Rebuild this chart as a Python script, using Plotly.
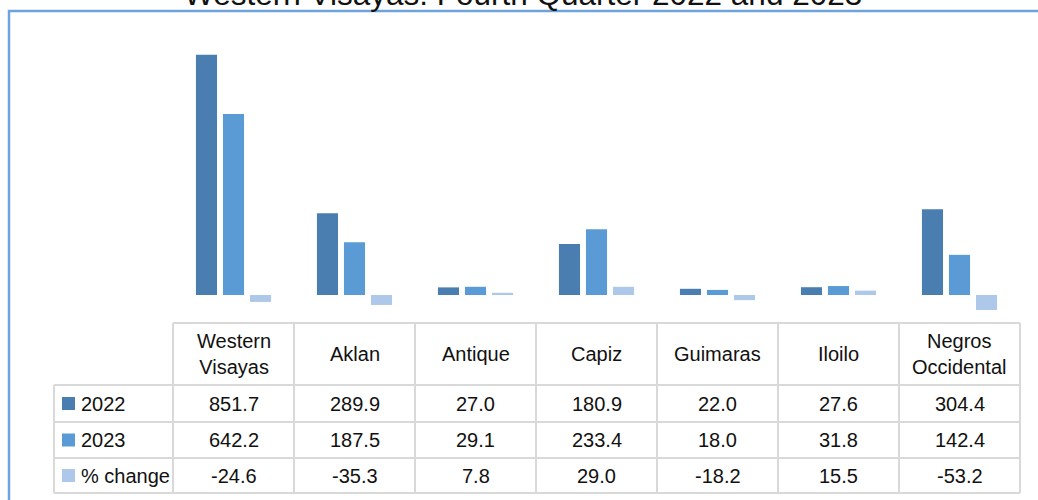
import plotly.graph_objects as go

categories = ["Western Visayas", "Aklan", "Antique", "Capiz", "Guimaras", "Iloilo", "Negros Occidental"]
header_labels = ["Western<br>Visayas", "Aklan", "Antique", "Capiz", "Guimaras", "Iloilo", "Negros<br>Occidental"]
series_names = ["2022", "2023", "% change"]
values_2022 = [851.7, 289.9, 27.0, 180.9, 22.0, 27.6, 304.4]
values_2023 = [642.2, 187.5, 29.1, 233.4, 18.0, 31.8, 142.4]
pct_change = [-24.6, -35.3, 7.8, 29.0, -18.2, 15.5, -53.2]
title_text = "Western Visayas: Fourth Quarter 2022 and 2023"

colors = ["#4A7EB0", "#5B9BD5", "#ADC8E8"]
series_values = [values_2022, values_2023, pct_change]

W, H = 1038, 500
ML, MR, MT, MB = 173, 18, 40, 180
PW = W - ML - MR
PH = H - MT - MB
ZERO_Y = 295
SCALE = 0.282


def px(p):
    return (p - ML) / PW


def py(p):
    return (H - MB - p) / PH


fig = go.Figure()
for name, vals, col in zip(series_names, series_values, colors):
    fig.add_trace(go.Bar(x=categories, y=vals, name=name, marker=dict(color=col, line=dict(width=0)),
                         showlegend=False))

y_top = (ZERO_Y - MT) / SCALE
y_bot = -((H - MB) - ZERO_Y) / SCALE

shapes = []
annotations = []
grid_col = "#D9D9D9"
font_family = "Liberation Sans, Arial"
FS = 20

# table geometry (pixels)
table_left = 54
col_x = [173 + 121 * i for i in range(8)]
row_y = [323, 385, 422, 458, 493]

# horizontal lines
shapes.append(dict(type="line", xref="paper", yref="paper", x0=px(col_x[0]), x1=px(col_x[-1]),
                   y0=py(row_y[0]), y1=py(row_y[0]), line=dict(color=grid_col, width=2)))
for yy in row_y[1:]:
    shapes.append(dict(type="line", xref="paper", yref="paper", x0=px(table_left), x1=px(col_x[-1]),
                       y0=py(yy), y1=py(yy), line=dict(color=grid_col, width=2)))
# vertical lines
shapes.append(dict(type="line", xref="paper", yref="paper", x0=px(table_left), x1=px(table_left),
                   y0=py(row_y[1]), y1=py(row_y[-1]), line=dict(color=grid_col, width=2)))
for xx in col_x:
    shapes.append(dict(type="line", xref="paper", yref="paper", x0=px(xx), x1=px(xx),
                       y0=py(row_y[0]), y1=py(row_y[-1]), line=dict(color=grid_col, width=2)))

# header labels
for i, lab in enumerate(header_labels):
    annotations.append(dict(x=px((col_x[i] + col_x[i + 1]) / 2), y=py((row_y[0] + row_y[1]) / 2),
                            xref="paper", yref="paper", text=lab, showarrow=False,
                            font=dict(family=font_family, size=FS, color="#111111"),
                            xanchor="center", yanchor="middle"))

# data rows
for r, (name, vals, col) in enumerate(zip(series_names, series_values, colors)):
    yc = (row_y[r + 1] + row_y[r + 2]) / 2
    shapes.append(dict(type="rect", xref="paper", yref="paper", x0=px(62), x1=px(75),
                       y0=py(yc - 6.5), y1=py(yc + 6.5), fillcolor=col, line=dict(width=0)))
    annotations.append(dict(x=px(79), y=py(yc), xref="paper", yref="paper", text=name,
                            showarrow=False, xanchor="left", yanchor="middle",
                            font=dict(family=font_family, size=FS, color="#111111")))
    for i, v in enumerate(vals):
        annotations.append(dict(x=px((col_x[i] + col_x[i + 1]) / 2), y=py(yc), xref="paper", yref="paper",
                                text=f"{v:.1f}", showarrow=False, xanchor="center", yanchor="middle",
                                font=dict(family=font_family, size=FS, color="#111111")))

# outer frame
shapes.append(dict(type="rect", xref="paper", yref="paper", x0=px(9), x1=px(1045), y0=py(11), y1=py(520),
                   line=dict(color="#6FA3DC", width=2.5), fillcolor="rgba(0,0,0,0)"))

# title (partially cut off at top, as in the reference)
annotations.append(dict(x=px(523), y=py(-5.5), xref="paper", yref="paper", text=title_text, showarrow=False,
                        xanchor="center", yanchor="middle",
                        font=dict(family="Liberation Sans, Arial", size=31.5, color="#111111")))

fig.update_layout(
    width=W, height=H,
    margin=dict(l=ML, r=MR, t=MT, b=MB, pad=0),
    barmode="group", bargap=0.33, bargroupgap=0.22,
    plot_bgcolor="white", paper_bgcolor="white",
    xaxis=dict(visible=False, range=[-0.5, 6.5]),
    yaxis=dict(visible=False, range=[y_bot, y_top]),
    shapes=shapes, annotations=annotations,
)

fig.write_html("out.html", config={"displayModeBar": False},
               post_script="document.body.style.margin='0';document.body.style.overflow='hidden';")
